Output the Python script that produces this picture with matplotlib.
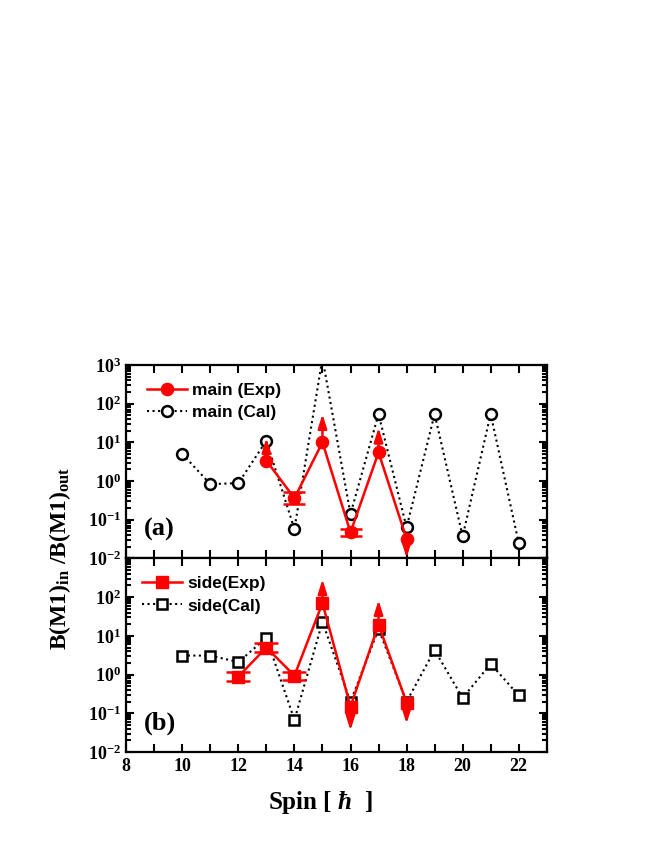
import matplotlib
matplotlib.use("Agg")
import matplotlib.pyplot as plt
import numpy as np
from matplotlib.ticker import LogLocator, FuncFormatter, MultipleLocator, NullFormatter

plt.rcParams['font.family'] = ['Liberation Serif', 'DejaVu Serif']
plt.rcParams['font.weight'] = 'bold'
plt.rcParams['mathtext.fontset'] = 'custom'
plt.rcParams['mathtext.rm'] = 'Liberation Serif'
plt.rcParams['mathtext.bf'] = 'Liberation Serif:bold'
plt.rcParams['mathtext.it'] = 'Liberation Serif:italic:bold'
plt.rcParams['mathtext.default'] = 'bf'

# ---------------- data ----------------
# panel (a): main band
main_cal_spin = [10, 11, 12, 13, 14, 15, 16, 17, 18, 19, 20, 21, 22]
main_cal_val = [5.0, 0.83, 0.88, 11, 0.057, 1500, 0.14, 54, 0.063, 54, 0.037, 54, 0.025]

main_exp_spin = [13, 14, 15, 16, 17, 18]
main_exp_val = [3.35, 0.36, 10, 0.047, 5.5, 0.032]

main_err_spin = [14, 16]
main_err_val = [0.36, 0.047]
main_err_lo = [0.26, 0.037]
main_err_hi = [0.51, 0.057]

main_arrow_spin = [13, 15, 17, 18]
main_arrow_from = [3.35, 10, 5.5, 0.032]
main_arrow_to = [13, 54, 24, 0.0102]

# panel (b): side band
side_cal_spin = [10, 11, 12, 13, 14, 15, 16, 17, 18, 19, 20, 21, 22]
side_cal_val = [3.1, 3.1, 2.1, 8.9, 0.068, 23, 0.2, 15, 0.2, 4.3, 0.25, 1.9, 0.29]

side_exp_spin = [12, 13, 14, 15, 16, 17, 18]
side_exp_val = [0.89, 5.0, 0.94, 70, 0.15, 19.5, 0.19]

side_err_spin = [12, 13, 14]
side_err_val = [0.89, 5.0, 0.94]
side_err_lo = [0.70, 3.8, 0.73]
side_err_hi = [1.15, 6.4, 1.2]

side_arrow_spin = [15, 16, 17, 18]
side_arrow_from = [70, 0.15, 19.5, 0.19]
side_arrow_to = [290, 0.036, 84, 0.054]

# ---------------- figure ----------------
fig = plt.figure(figsize=(6.54, 8.46), dpi=100)
L, R = 0.193, 0.836
axa = fig.add_axes([L, 0.340, R - L, 0.2286])
axb = fig.add_axes([L, 0.111, R - L, 0.229])


def style(ax):
    ax.set_yscale('log')
    ax.set_ylim(1e-2, 1e3)
    ax.set_xlim(8, 23)
    ax.xaxis.set_major_locator(MultipleLocator(1))
    ax.yaxis.set_major_locator(LogLocator(base=10, numticks=10))
    ax.yaxis.set_minor_locator(LogLocator(base=10, subs=np.arange(2, 10), numticks=20))
    ax.yaxis.set_minor_formatter(NullFormatter())
    ax.yaxis.set_major_formatter(FuncFormatter(lambda v, p: r'$\mathbf{10^{%d}}$' % int(round(np.log10(v)))))
    ax.tick_params(which='both', direction='in', top=True, right=True, width=1.5)
    ax.tick_params(which='major', length=5.5, labelsize=13, pad=4)
    ax.tick_params(which='minor', length=3.5)
    for s in ax.spines.values():
        s.set_linewidth(1.6)


style(axa)
style(axb)

axa.tick_params(axis='x', labelbottom=False)
axb.xaxis.set_major_formatter(FuncFormatter(lambda v, p: '%d' % v if int(round(v)) % 2 == 0 else ''))
axb.set_yticks([1e-2, 1e-1, 1e0, 1e1, 1e2, 1e3])
axb.set_yticklabels([r'$\mathbf{10^{-2}}$', r'$\mathbf{10^{-1}}$', r'$\mathbf{10^{0}}$',
                     r'$\mathbf{10^{1}}$', r'$\mathbf{10^{2}}$', ''])

red = '#ff0000'
arrow_kw = dict(arrowstyle='-|>,head_length=0.7,head_width=0.22', color=red, lw=1.8,
                mutation_scale=12, shrinkA=0, shrinkB=0)
leg_kw = dict(loc='upper left', frameon=False,
              prop=dict(family='Liberation Sans', weight='bold', size=12.5),
              handlelength=2.3, handletextpad=0.3, labelspacing=0.42, borderaxespad=0.5)

# panel (a)
axa.plot(main_cal_spin, main_cal_val, ls=':', color='black', lw=1.5, marker='o',
         mfc='white', mec='black', mew=1.8, ms=7.8, label='main (Cal)', zorder=2)
for x, y0, y1 in zip(main_arrow_spin, main_arrow_from, main_arrow_to):
    axa.annotate('', xy=(x, y1), xytext=(x, y0), arrowprops=arrow_kw, zorder=3)
axa.errorbar(main_err_spin, main_err_val,
             yerr=[np.array(main_err_val) - np.array(main_err_lo), np.array(main_err_hi) - np.array(main_err_val)],
             fmt='none', ecolor=red, elinewidth=1.8, capsize=8, capthick=1.8, zorder=3)
axa.plot(main_exp_spin, main_exp_val, ls='-', color=red, lw=1.8, marker='o',
         mfc=red, mec=red, ms=8.8, label='main (Exp)', zorder=4)

h, l = axa.get_legend_handles_labels()
axa.legend([h[1], h[0]], [l[1], l[0]], bbox_to_anchor=(0.012, 0.99), **leg_kw)
axa.text(0.042, 0.15, '(a)', transform=axa.transAxes, fontsize=19, fontweight='bold',
         ha='left', va='center')

# panel (b)
axb.plot(side_cal_spin, side_cal_val, ls=':', color='black', lw=1.5, marker='s',
         mfc='white', mec='black', mew=1.8, ms=6.8, label='side(Cal)', zorder=2)
for x, y0, y1 in zip(side_arrow_spin, side_arrow_from, side_arrow_to):
    axb.annotate('', xy=(x, y1), xytext=(x, y0), arrowprops=arrow_kw, zorder=3)
axb.errorbar(side_err_spin, side_err_val,
             yerr=[np.array(side_err_val) - np.array(side_err_lo), np.array(side_err_hi) - np.array(side_err_val)],
             fmt='none', ecolor=red, elinewidth=1.8, capsize=8.5, capthick=1.8, zorder=3)
axb.plot(side_exp_spin, side_exp_val, ls='-', color=red, lw=1.8, marker='s',
         mfc=red, mec=red, ms=8, label='side(Exp)', zorder=4)

h, l = axb.get_legend_handles_labels()
axb.legend([h[1], h[0]], [l[1], l[0]], bbox_to_anchor=(0.0, 0.99), **leg_kw)
axb.text(0.042, 0.15, '(b)', transform=axb.transAxes, fontsize=19, fontweight='bold',
         ha='left', va='center')

axb.set_xlabel(r'Spin $\mathrm{[}\ \mathit{ħ}\ \ \mathrm{]}$', fontsize=18, fontweight='bold')
axb.xaxis.set_label_coords(0.462, -0.19)
fig.text(0.092, 0.340, r'B(M1)$_{\mathbf{in}}$ /B(M1)$_{\mathbf{out}}$', rotation=90,
         fontsize=17, fontweight='bold', ha='center', va='center')

fig.savefig('out.png', dpi=100)
